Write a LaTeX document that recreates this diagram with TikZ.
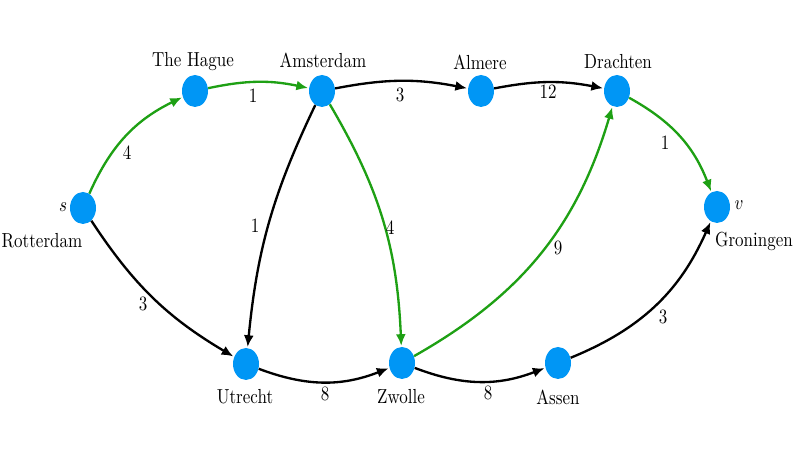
\documentclass[tikz,border=0pt]{standalone}
\usepackage{graphicx}
\usetikzlibrary{shapes.geometric,arrows.meta}
\definecolor{nodeblue}{RGB}{0,150,245}
\definecolor{pathgreen}{RGB}{30,160,20}
\newcommand{\tallt}[1]{\scalebox{1.02}[1.22]{#1}}
\tikzset{
  city/.style={ellipse,fill=nodeblue,draw=none,minimum width=15.6pt,minimum height=19.2pt,inner sep=0pt},
  txt/.style={inner sep=0pt,font=\normalsize},
  edge/.style={line width=1.4pt,-{Latex[length=7pt,width=6pt]},shorten >=0.5pt},
  blk/.style={edge,draw=black},
  grn/.style={edge,draw=pathgreen},
}
\begin{document}
\begin{tikzpicture}[x=0.6pt,y=0.6pt]
\useasboundingbox (0,0) rectangle (800,450);
% nodes
\node[city] (s) at (83,242) {};
\node[city] (hag) at (195,359) {};
\node[city] (ams) at (322,359) {};
\node[city] (alm) at (481,359) {};
\node[city] (dra) at (617,359) {};
\node[city] (gro) at (717,243) {};
\node[city] (utr) at (246,86) {};
\node[city] (zwo) at (402,87) {};
\node[city] (ass) at (558,87) {};
% names
\node[txt] (thag) at (193,388) {\tallt{The Hague}};
\node[txt] (tams) at (323,390) {\tallt{Amsterdam}};
\node[txt] (talm) at (480,388) {\tallt{Almere}};
\node[txt] (tdra) at (618,388) {\tallt{Drachten}};
\node[txt] (ts) at (63,243) {\tallt{$s$}};
\node[txt] (trot) at (42,209) {\tallt{Rotterdam}};
\node[txt] (tv) at (739,245) {\tallt{$v$}};
\node[txt] (tgro) at (754,209) {\tallt{Groningen}};
\node[txt] (tutr) at (245,53) {\tallt{Utrecht}};
\node[txt] (tzwo) at (401,53) {\tallt{Zwolle}};
\node[txt] (tass) at (558,53) {\tallt{Assen}};
% edges
\draw[grn] (s) to[bend left=20] (hag);
\draw[grn] (hag) to[bend left=12] (ams);
\draw[blk] (ams) to[bend left=11] (alm);
\draw[blk] (alm) to[bend left=11] (dra);
\draw[grn] (dra) to[bend left=20] (gro);
\draw[blk] (s) to[bend right=13] (utr);
\draw[blk] (ams) to[bend right=10] (utr);
\draw[grn] (ams) to[bend left=14] (zwo);
\draw[grn] (zwo) to[bend right=22] (dra);
\draw[blk] (utr) to[bend right=21] (zwo);
\draw[blk] (zwo) to[bend right=21] (ass);
\draw[blk] (ass) to[bend right=22] (gro);
% weights
\node[txt] (w1) at (127,297) {\tallt{4}};
\node[txt] (w2) at (253,354) {\tallt{1}};
\node[txt] (w3) at (400,355) {\tallt{3}};
\node[txt] (w4) at (548,358) {\tallt{12}};
\node[txt] (w5) at (665,307) {\tallt{1}};
\node[txt] (w6) at (255,224) {\tallt{1}};
\node[txt] (w7) at (390,222) {\tallt{4}};
\node[txt] (w8) at (558,202) {\tallt{9}};
\node[txt] (w9) at (143,146) {\tallt{3}};
\node[txt] (w10) at (325,56) {\tallt{8}};
\node[txt] (w11) at (488,57) {\tallt{8}};
\node[txt] (w12) at (663,133) {\tallt{3}};
\end{tikzpicture}
\end{document}
